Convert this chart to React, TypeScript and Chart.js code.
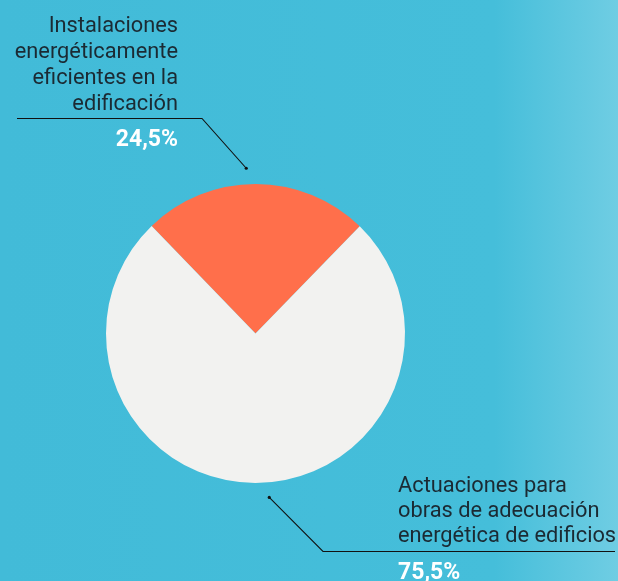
import React, { useEffect, useRef } from "react";
import { Chart, registerables } from "chart.js";

Chart.register(...registerables);

const categories = [
  "Instalaciones energéticamente eficientes en la edificación",
  "Actuaciones para obras de adecuación energética de edificios",
];
const values = [24.5, 75.5];
const valueLabels = ["24,5%", "75,5%"];
const labelLines = [
  ["Instalaciones", "energéticamente", "eficientes en la", "edificación"],
  ["Actuaciones para", "obras de adecuación", "energética de edificios"],
];
const colors = ["#FF6F4B", "#F2F2F0"];

const W = 618;
const H = 581;

const calloutPlugin = {
  id: "callouts",
  beforeDraw(chart: any) {
    const ctx = chart.ctx;
    const g = ctx.createLinearGradient(0, 0, W, 0);
    g.addColorStop(0, "#42BBD8");
    g.addColorStop(0.8, "#45BEDA");
    g.addColorStop(1, "#6FCDE3");
    ctx.save();
    ctx.fillStyle = g;
    ctx.fillRect(0, 0, W, H);
    ctx.restore();
  },
  afterDraw(chart: any) {
    const ctx = chart.ctx;
    const arcs = chart.getDatasetMeta(0).data;
    const a0 = arcs[0];
    const cx = a0.x;
    const cy = a0.y;
    const r = a0.outerRadius;
    const anchors = [
      { ang: -Math.PI / 2 - (3.2 * Math.PI) / 180, dist: r + 16 },
      { ang: Math.PI / 2 - (4.8 * Math.PI) / 180, dist: r + 15 },
    ];
    const layout = [
      { elbow: [202, 118.5], end: 17, textX: 178, align: "right", baselines: [32, 58, 84, 110], valueY: 146 },
      { elbow: [323, 551.5], end: 615, textX: 398, align: "left", baselines: [492, 517, 542], valueY: 579 },
    ];
    ctx.save();
    for (let i = 0; i < 2; i++) {
      const an = anchors[i];
      const dx = cx + Math.cos(an.ang) * an.dist;
      const dy = cy + Math.sin(an.ang) * an.dist;
      const L = layout[i];
      ctx.strokeStyle = "#111";
      ctx.lineWidth = 1.1;
      ctx.beginPath();
      ctx.moveTo(dx, dy);
      ctx.lineTo(L.elbow[0], L.elbow[1]);
      ctx.lineTo(L.end, L.elbow[1]);
      ctx.stroke();
      ctx.fillStyle = "#111";
      ctx.beginPath();
      ctx.arc(dx, dy, 1.6, 0, Math.PI * 2);
      ctx.fill();

      ctx.textAlign = L.align;
      ctx.textBaseline = "alphabetic";
      ctx.fillStyle = "#1B2A33";
      ctx.font = "21.8px Roboto";
      labelLines[i].forEach((t, j) => ctx.fillText(t, L.textX, L.baselines[j]));
      ctx.fillStyle = "#FFFFFF";
      ctx.font = "bold 23px Roboto";
      ctx.fillText(valueLabels[i], L.textX, L.valueY);
    }
    ctx.restore();
  },
};

export default function App() {
  const ref = useRef<HTMLCanvasElement>(null);
  useEffect(() => {
    document.body.style.margin = "0";
    const chart = new Chart(ref.current!, {
      type: "pie",
      data: {
        labels: categories,
        datasets: [
          {
            data: values,
            backgroundColor: colors,
            borderWidth: 0,
            hoverOffset: 0,
          },
        ],
      },
      options: {
        animation: false,
        responsive: false,
        rotation: -44,
        layout: { padding: { left: 106, right: 213, top: 184, bottom: 98 } },
        plugins: {
          legend: { display: false },
          tooltip: { enabled: false },
        },
      },
      plugins: [calloutPlugin],
    });
    return () => chart.destroy();
  }, []);
  return (
    <div style={{ width: W, height: H }}>
      <canvas ref={ref} width={W} height={H} style={{ display: "block" }} />
    </div>
  );
}
